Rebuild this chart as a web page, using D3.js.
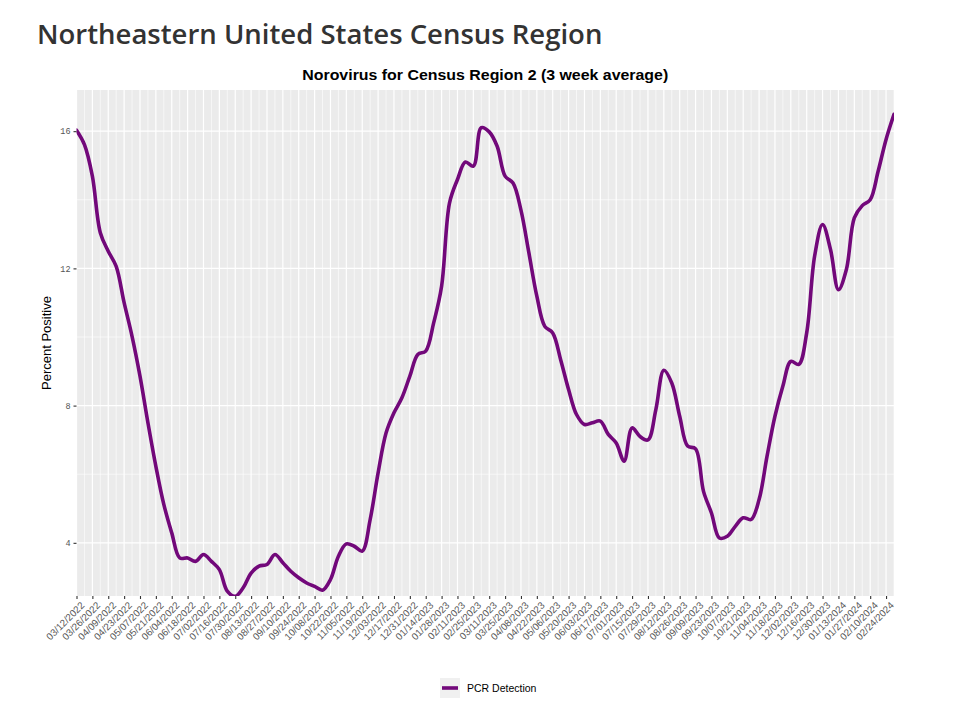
<!DOCTYPE html>
<html><head><meta charset="utf-8">
<script src="https://cdn.jsdelivr.net/npm/d3@7"></script>
<style>body{margin:0;background:#fff;} svg{display:block}</style>
</head><body><svg id="c" width="962" height="725"></svg>
<script>
// ---- data ----
const weeks = [
"03/12/2022","03/19/2022","03/26/2022","04/02/2022","04/09/2022","04/16/2022","04/23/2022","04/30/2022",
"05/07/2022","05/14/2022","05/21/2022","05/28/2022","06/04/2022","06/11/2022","06/18/2022","06/25/2022",
"07/02/2022","07/09/2022","07/16/2022","07/23/2022","07/30/2022","08/06/2022","08/13/2022","08/20/2022",
"08/27/2022","09/03/2022","09/10/2022","09/17/2022","09/24/2022","10/01/2022","10/08/2022","10/15/2022",
"10/22/2022","10/29/2022","11/05/2022","11/12/2022","11/19/2022","11/26/2022","12/03/2022","12/10/2022",
"12/17/2022","12/24/2022","12/31/2022","01/07/2023","01/14/2023","01/21/2023","01/28/2023","02/04/2023",
"02/11/2023","02/18/2023","02/25/2023","03/04/2023","03/11/2023","03/18/2023","03/25/2023","04/01/2023",
"04/08/2023","04/15/2023","04/22/2023","04/29/2023","05/06/2023","05/13/2023","05/20/2023","05/27/2023",
"06/03/2023","06/10/2023","06/17/2023","06/24/2023","07/01/2023","07/08/2023","07/15/2023","07/22/2023",
"07/29/2023","08/05/2023","08/12/2023","08/19/2023","08/26/2023","09/02/2023","09/09/2023","09/16/2023",
"09/23/2023","09/30/2023","10/07/2023","10/14/2023","10/21/2023","10/28/2023","11/04/2023","11/11/2023",
"11/18/2023","11/25/2023","12/02/2023","12/09/2023","12/16/2023","12/23/2023","12/30/2023","01/06/2024",
"01/13/2024","01/20/2024","01/27/2024","02/03/2024","02/10/2024","02/17/2024","02/24/2024","03/02/2024"];

const pcrValues = [
16.03,15.61,14.69,13.04,12.5,12.06,11.0,10.02,8.86,7.5,6.23,5.12,4.29,3.56,3.56,3.46,
3.66,3.46,3.22,2.59,2.44,2.69,3.12,3.32,3.37,3.66,3.42,3.17,2.98,2.83,2.73,2.62,
2.93,3.61,3.97,3.9,3.76,4.68,6.04,7.2,7.79,8.23,8.86,9.49,9.59,10.41,11.48,13.91,
14.59,15.1,14.98,16.1,15.98,15.56,14.69,14.49,13.7,12.45,11.19,10.31,10.12,9.34,8.47,7.74,
7.45,7.5,7.55,7.16,6.91,6.38,7.35,7.1,7.0,7.89,9.03,8.66,7.69,6.82,6.74,5.5,
4.87,4.14,4.19,4.48,4.73,4.68,5.26,6.52,7.69,8.57,9.29,9.2,10.12,12.36,13.28,12.55,
11.38,11.97,13.47,13.83,14.0,14.83,15.76,16.49];

const tickLabels = [
"03/12/2022","03/26/2022","04/09/2022","04/23/2022","05/07/2022","05/21/2022","06/04/2022","06/18/2022",
"07/02/2022","07/16/2022","07/30/2022","08/13/2022","08/27/2022","09/10/2022","09/24/2022","10/08/2022",
"10/22/2022","11/05/2022","11/19/2022","12/03/2022","12/17/2022","12/31/2022","01/14/2023","01/28/2023",
"02/11/2023","02/25/2023","03/11/2023","03/25/2023","04/08/2023","04/22/2023","05/06/2023","05/20/2023",
"06/03/2023","06/17/2023","07/01/2023","07/15/2023","07/29/2023","08/12/2023","08/26/2023","09/09/2023",
"09/23/2023","10/07/2023","10/21/2023","11/04/2023","11/18/2023","12/02/2023","12/16/2023","12/30/2023",
"01/13/2024","01/27/2024","02/10/2024","02/24/2024"];

const yTicks = [4, 8, 12, 16];
const yMinorTicks = [6, 10, 14];
const seriesName = "PCR Detection";
const mainTitle = "Northeastern United States Census Region";
const chartTitle = "Norovirus for Census Region 2 (3 week average)";
const yTitle = "Percent Positive";

// ---- layout ----
const parse = d3.timeParse("%m/%d/%Y");
const fmt = d3.timeFormat("%m/%d/%Y");
const dates = weeks.map(parse);
const tickDates = tickLabels.map(parse);
const minorDates = dates.filter(d => !tickLabels.includes(fmt(d)));
const data = dates.map((d, i) => ({date: d, value: pcrValues[i]}));

const L = 76.5, R = 894, T = 90, B = 596;
const lineColor = "#72087a";

const x = d3.scaleTime().domain(d3.extent(dates)).range([L, R]);
const y = d3.scaleLinear().domain([2.45, 17.2]).range([B, T]);

const svg = d3.select("#c");
svg.append("rect").attr("width", 962).attr("height", 725).attr("fill", "#fff");

// titles
svg.append("text").attr("x", 37).attr("y", 44)
  .attr("font-family", "'Open Sans', sans-serif").attr("font-size", 27.5).attr("font-weight", 600)
  .attr("fill", "#333").text(mainTitle);
svg.append("text").attr("x", (L + R) / 2).attr("y", 80).attr("text-anchor", "middle")
  .attr("font-family", "'Liberation Sans', Arial, sans-serif").attr("font-weight", "bold")
  .attr("font-size", 15).attr("textLength", 366).attr("lengthAdjust", "spacingAndGlyphs")
  .attr("fill", "#000").text(chartTitle);

// panel
svg.append("rect").attr("x", L).attr("y", T).attr("width", R - L).attr("height", B - T).attr("fill", "#ebebeb");
const grid = svg.append("g");
grid.selectAll("line.hmin").data(yMinorTicks).join("line")
  .attr("x1", L).attr("x2", R).attr("y1", d => y(d)).attr("y2", d => y(d))
  .attr("stroke", "#fff").attr("stroke-width", 0.6);
grid.selectAll("line.vmin").data(minorDates).join("line")
  .attr("y1", T).attr("y2", B).attr("x1", d => x(d)).attr("x2", d => x(d))
  .attr("stroke", "#fff").attr("stroke-width", 0.6);
grid.selectAll("line.hmaj").data(yTicks).join("line")
  .attr("x1", L).attr("x2", R).attr("y1", d => y(d)).attr("y2", d => y(d))
  .attr("stroke", "#fff").attr("stroke-width", 1.2);
grid.selectAll("line.vmaj").data(tickDates).join("line")
  .attr("y1", T).attr("y2", B).attr("x1", d => x(d)).attr("x2", d => x(d))
  .attr("stroke", "#fff").attr("stroke-width", 1.2);

// line
svg.append("clipPath").attr("id", "clip").append("rect")
  .attr("x", L).attr("y", T).attr("width", R - L).attr("height", B - T);
const line = d3.line().x(d => x(d.date)).y(d => y(d.value)).curve(d3.curveCatmullRom.alpha(0.5));
svg.append("path").datum(data).attr("clip-path", "url(#clip)")
  .attr("d", line).attr("fill", "none").attr("stroke", lineColor)
  .attr("stroke-width", 3.6).attr("stroke-linejoin", "round").attr("stroke-linecap", "round");

// x axis
const xAxis = svg.append("g").attr("transform", `translate(0,${B})`)
  .call(d3.axisBottom(x).tickValues(tickDates).tickFormat(fmt).tickSize(3).tickPadding(0));
xAxis.select(".domain").remove();
xAxis.selectAll(".tick line").attr("stroke", "#333").attr("stroke-width", 1.1);
xAxis.selectAll(".tick text")
  .attr("font-family", "'Liberation Sans', Arial, sans-serif").attr("font-size", 9.8)
  .attr("fill", "#555").attr("text-anchor", "end")
  .attr("transform", "translate(3,5) rotate(-45)").attr("y", 0).attr("dy", "0.72em");

// y axis
const yAxis = svg.append("g").attr("transform", `translate(${L},0)`)
  .call(d3.axisLeft(y).tickValues(yTicks).tickSize(3).tickPadding(3));
yAxis.select(".domain").remove();
yAxis.selectAll(".tick line").attr("stroke", "#333").attr("stroke-width", 1.1);
yAxis.selectAll(".tick text")
  .attr("font-family", "'Liberation Mono', monospace").attr("font-size", 8.5)
  .attr("fill", "#555");

svg.append("text").attr("transform", `translate(51,${(T + B) / 2}) rotate(-90)`)
  .attr("text-anchor", "middle").attr("font-family", "'Liberation Sans', Arial, sans-serif")
  .attr("font-size", 13).attr("fill", "#000").text(yTitle);

// legend
const lg = svg.append("g").attr("transform", "translate(440,678)");
lg.append("rect").attr("width", 20).attr("height", 20).attr("fill", "#f0f0f0");
lg.append("line").attr("x1", 2).attr("x2", 18).attr("y1", 10).attr("y2", 10)
  .attr("stroke", lineColor).attr("stroke-width", 3.6);
lg.append("text").attr("x", 27).attr("y", 14)
  .attr("font-family", "'Liberation Sans', Arial, sans-serif").attr("font-size", 10.5)
  .attr("fill", "#000").text(seriesName);
</script>
</body></html>
